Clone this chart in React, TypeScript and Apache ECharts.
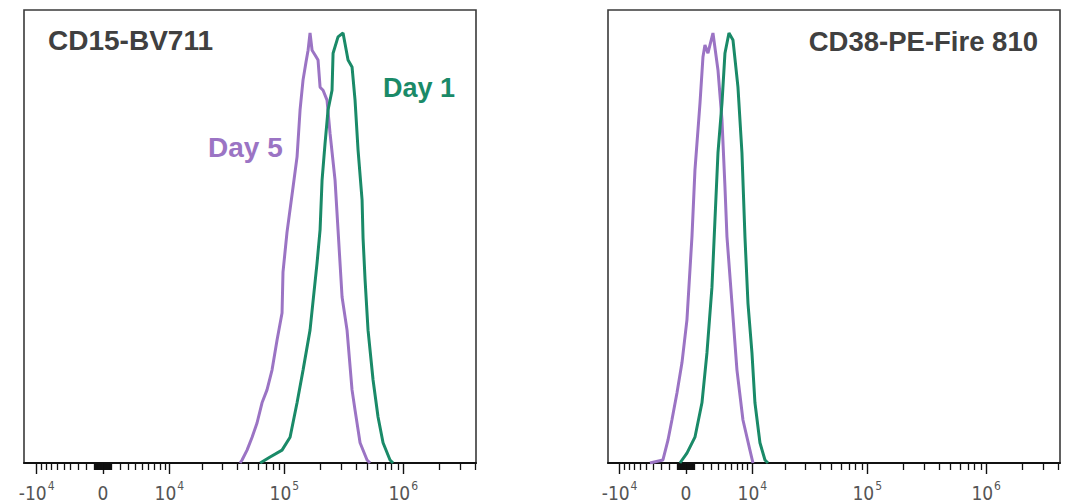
import React, { useEffect, useRef } from "react";
import * as echarts from "echarts";

// ---- Data (fluorescence intensity, % of max) ----
// Left panel: CD15-BV711
const cd15Day5X = [42300, 44000, 48500, 53500, 58900, 64900, 71500, 78800, 86900, 95700, 97500, 105400, 118500, 128000, 135700, 143800, 152400, 158500, 164600, 171200, 181300, 192200, 199900, 211800, 228700, 242400, 267100, 283000, 306000, 336900, 371100, 393300, 433400, 496200, 525600];
const cd15Day5Y = [0, 0.7, 3.0, 6.0, 9.3, 14.0, 17.0, 21.6, 28.6, 34.9, 44.4, 53.7, 64.2, 71.2, 82.1, 89.1, 93.3, 96.0, 100, 96.0, 94.9, 93.7, 87.4, 86.7, 84.4, 76.7, 65.8, 54.2, 38.6, 30.9, 17.0, 12.3, 4.7, 0.7, 0];
const cd15Day1X = [62600, 75900, 95700, 111800, 128000, 143800, 164600, 188500, 199900, 207800, 220200, 233300, 252000, 257100, 283000, 311800, 343500, 371100, 393300, 416800, 450600, 459300, 477600, 505800, 557400, 613800, 676200, 774000, 820800];
const cd15Day1Y = [0, 1.4, 3.0, 6.0, 14.0, 21.6, 30.9, 46.5, 54.2, 65.8, 74.4, 82.1, 86.7, 95.3, 99.1, 100, 93.7, 92.1, 84.4, 72.8, 61.2, 52.3, 42.6, 30.9, 19.3, 10.7, 4.7, 0.7, 0];

// Right panel: CD38-PE-Fire 810
const cd38Day5X = [-4526, -2760, -2130, -1650, -1050, -465, 116, 698, 1050, 1650, 2010, 2256, 2632, 3280, 3959, 4529, 4971, 5278, 6074, 6931, 8044, 9476, 10149];
const cd38Day5Y = [0, 0.7, 5.3, 10.0, 16.3, 23.3, 33.3, 52.6, 68.1, 83.7, 94.4, 97.2, 95.3, 100, 91.4, 79.8, 64.2, 52.6, 37.2, 21.6, 10.0, 3.0, 0];
const cd38Day1X = [-698, 116, 1050, 1888, 2506, 3148, 3547, 3959, 4529, 4971, 5590, 6241, 7109, 7851, 8438, 9053, 9922, 10610, 11840, 13190, 14050];
const cd38Day1Y = [0, 2.3, 6.0, 14.0, 25.6, 40.9, 56.5, 72.1, 83.7, 95.3, 100, 98.4, 87.4, 72.1, 52.6, 37.2, 25.6, 14.0, 4.7, 0.7, 0];

// Axis ticks / labels
const majorTicks = [-10000, 0, 10000, 100000, 1000000];
const labelValues = [-10000, 0, 10000, 100000, 1000000];
const labelTexts = ["{b|-10}{s|4}", "{b|0}", "{b|10}{s|4}", "{b|10}{s|5}", "{b|10}{s|6}"];
const minorNear = [-1000, -900, -800, -700, -600, -500, -400, -300, -200, -100, 100, 200, 300, 400, 500, 600, 700, 800, 900, 1000];
const minorLinear = [-9000, -8000, -7000, -6000, -5000, -4000, -3000, -2000, 2000, 3000, 4000, 5000, 6000, 7000, 8000, 9000];
const minorLog = [20000, 30000, 40000, 50000, 60000, 70000, 80000, 90000, 200000, 300000, 400000, 500000, 600000, 700000, 800000, 900000, 2000000, 3000000, 4000000];

const titles = ["CD15-BV711", "CD38-PE-Fire 810"];
const seriesNames = ["Day 5", "Day 1"];

const COF = 6000;
const tr = (v: number) => Math.asinh(v / COF) / Math.LN10;

const PURPLE = "#9b74c4";
const GREEN = "#1a8a68";
const LABEL_FONT = "'Liberation Sans Narrow', 'Arial Narrow', 'DejaVu Sans Condensed', sans-serif";

export default function App() {
  const ref = useRef<HTMLDivElement>(null);
  useEffect(() => {
    if (!ref.current) return;
    const chart = echarts.init(ref.current, undefined, { renderer: "svg" });
    const labelT = labelValues.map(tr);
    const fmt = (val: number) => {
      for (let i = 0; i < labelT.length; i++) {
        if (Math.abs(labelT[i] - val) < 1e-6) return labelTexts[i];
      }
      return "";
    };
    const minorT = [...minorNear, ...minorLinear, ...minorLog].map(tr);
    const majorT = majorTicks.map(tr);
    const ranges = [
      { min: -0.664, max: 3.134 },
      { min: -0.655, max: 3.143 },
    ];
    const xAxes: any[] = [];
    ranges.forEach((r, gi) => {
      xAxes.push({
        type: "value",
        gridIndex: gi,
        position: "bottom",
        min: r.min,
        max: r.max,
        splitLine: { show: false },
        axisLine: { show: true, lineStyle: { color: "#111", width: 2 } },
        axisTick: { show: true, customValues: majorT, length: 11, lineStyle: { color: "#111", width: 1.4 } },
        axisLabel: {
          show: true,
          customValues: labelT,
          formatter: fmt,
          margin: 17,
          rich: {
            b: { fontSize: 19, color: "#555", fontFamily: LABEL_FONT, lineHeight: 22, verticalAlign: "bottom" },
            s: { fontSize: 12, color: "#555", fontFamily: LABEL_FONT, lineHeight: 12, verticalAlign: "top", padding: [0, 0, 0, 1] },
          },
        },
      });
      xAxes.push({
        type: "value",
        gridIndex: gi,
        position: "bottom",
        min: r.min,
        max: r.max,
        splitLine: { show: false },
        axisLine: { show: false },
        axisTick: { show: true, customValues: minorT, length: 7, lineStyle: { color: "#111", width: 1.3 } },
        axisLabel: { show: false },
      });
    });
    const mk = (xs: number[], ys: number[]) => xs.map((v, i) => [tr(v), ys[i]]);
    const line = (name: string, data: number[][], color: string, xi: number, yi: number) => ({
      type: "line",
      name,
      xAxisIndex: xi,
      yAxisIndex: yi,
      data,
      showSymbol: false,
      symbol: "none",
      lineStyle: { color, width: 3 },
      itemStyle: { color },
    });
    chart.setOption({
      animation: false,
      backgroundColor: "#ffffff",
      grid: [
        { left: 24, top: 10, width: 452, height: 453, show: true, borderColor: "#3a3a3a", borderWidth: 1.6, backgroundColor: "transparent" },
        { left: 608, top: 10, width: 452, height: 453, show: true, borderColor: "#3a3a3a", borderWidth: 1.6, backgroundColor: "transparent" },
      ],
      xAxis: xAxes,
      yAxis: [
        { type: "value", gridIndex: 0, min: 0, max: 105.35, show: false },
        { type: "value", gridIndex: 1, min: 0, max: 105.35, show: false },
      ],
      series: [
        line(seriesNames[0], mk(cd15Day5X, cd15Day5Y), PURPLE, 0, 0),
        line(seriesNames[1], mk(cd15Day1X, cd15Day1Y), GREEN, 0, 0),
        line(seriesNames[0], mk(cd38Day5X, cd38Day5Y), PURPLE, 2, 1),
        line(seriesNames[1], mk(cd38Day1X, cd38Day1Y), GREEN, 2, 1),
      ],
      graphic: [
        { type: "text", x: 48, y: 40, style: { text: titles[0], fontSize: 28, fontWeight: "bold", fontFamily: "Liberation Sans", fill: "#404040", verticalAlign: "middle", align: "left" } },
        { type: "text", x: 1038, y: 41, style: { text: titles[1], fontSize: 27.5, fontWeight: "bold", fontFamily: "Liberation Sans", fill: "#404040", verticalAlign: "middle", align: "right" } },
        { type: "text", x: 383, y: 88, style: { text: seriesNames[1], fontSize: 27, fontWeight: "bold", fontFamily: "Liberation Sans", fill: GREEN, verticalAlign: "middle", align: "left" } },
        { type: "text", x: 208, y: 147, style: { text: seriesNames[0], fontSize: 28, fontWeight: "bold", fontFamily: "Liberation Sans", fill: PURPLE, verticalAlign: "middle", align: "left" } },
      ],
    });
    return () => chart.dispose();
  }, []);
  return <div ref={ref} style={{ position: "absolute", left: 0, top: 0, width: 1069, height: 503 }} />;
}
